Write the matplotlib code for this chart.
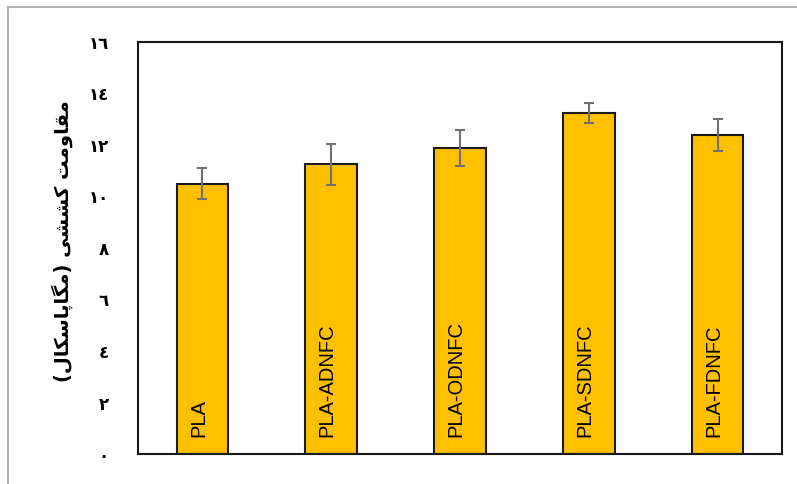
import matplotlib
matplotlib.use('Agg')
import matplotlib.pyplot as plt
from matplotlib.patches import Rectangle

# مقادیر مقاومت کششی و انحراف معیار
samples = ['PLA', 'PLA-ADNFC', 'PLA-ODNFC', 'PLA-SDNFC', 'PLA-FDNFC']
strength = [10.5, 11.25, 11.9, 13.25, 12.4]
std_dev = [0.6, 0.8, 0.7, 0.38, 0.62]
yticks = [0, 2, 4, 6, 8, 10, 12, 14, 16]

# ارقام عربی-هندی برای برچسب محور
digits = '٠١٢٣٤٥٦٧٨٩'
def to_arabic(n):
    return ''.join(digits[int(c)] for c in str(n))

# عنوان محور به صورت شکل‌دهی‌شده (ترتیب نمایشی چپ به راست)
ylabel_txt = ('(' + '\uFEDD\uFE8E\uFB91\uFEB3\uFE8E\uFB58\uFE8E\uFB95\uFEE3' + ') '
              + '\uFBFD\uFEB8\uFEB8\uFB90' + ' '
              + '\uFE96\uFEE3\uFEED\uFE8E\uFED8\uFEE3')

fig = plt.figure(figsize=(7.97, 4.84), dpi=100)
ax = fig.add_axes([138/797, 1 - 454/484, (782 - 138)/797, (454 - 42)/484])

x = range(len(samples))
bars = ax.bar(x, strength, width=0.4, color='#FFC000', edgecolor='#1a1a1a',
              linewidth=1.5, zorder=2)
ax.errorbar(x, strength, yerr=std_dev, fmt='none', ecolor='#707070',
            elinewidth=1.5, capsize=3.8, capthick=1.5, zorder=3)

for i, name in enumerate(samples):
    ax.annotate(name, (i - 0.03, 0), xytext=(0, 12.5), textcoords='offset points',
                rotation=90, ha='center', va='bottom', fontsize=14.5,
                family=['Liberation Sans', 'DejaVu Sans'], color='black')

ax.set_xlim(-0.5, 4.5)
ax.set_ylim(0, 16)
ax.set_xticks([])
ax.set_yticks(yticks)
ax.set_yticklabels([to_arabic(v) for v in yticks], fontsize=12, fontweight='bold',
                   family='DejaVu Sans')
ax.tick_params(axis='y', length=0, pad=21)
for s in ax.spines.values():
    s.set_linewidth(1.5)
    s.set_color('#1a1a1a')

fig.text(62/797, 1 - 241/484, ylabel_txt, rotation=90, ha='center', va='center',
         fontsize=14, fontweight='bold', family='DejaVu Sans')

# قاب بیرونی خاکستری
fig.patches.append(Rectangle((8/797, -0.1), 1.0, 1 - 7/484 + 0.1, transform=fig.transFigure,
                             fill=False, edgecolor='#b4b4b4', linewidth=1.5))

fig.savefig('out.png', dpi=100)
